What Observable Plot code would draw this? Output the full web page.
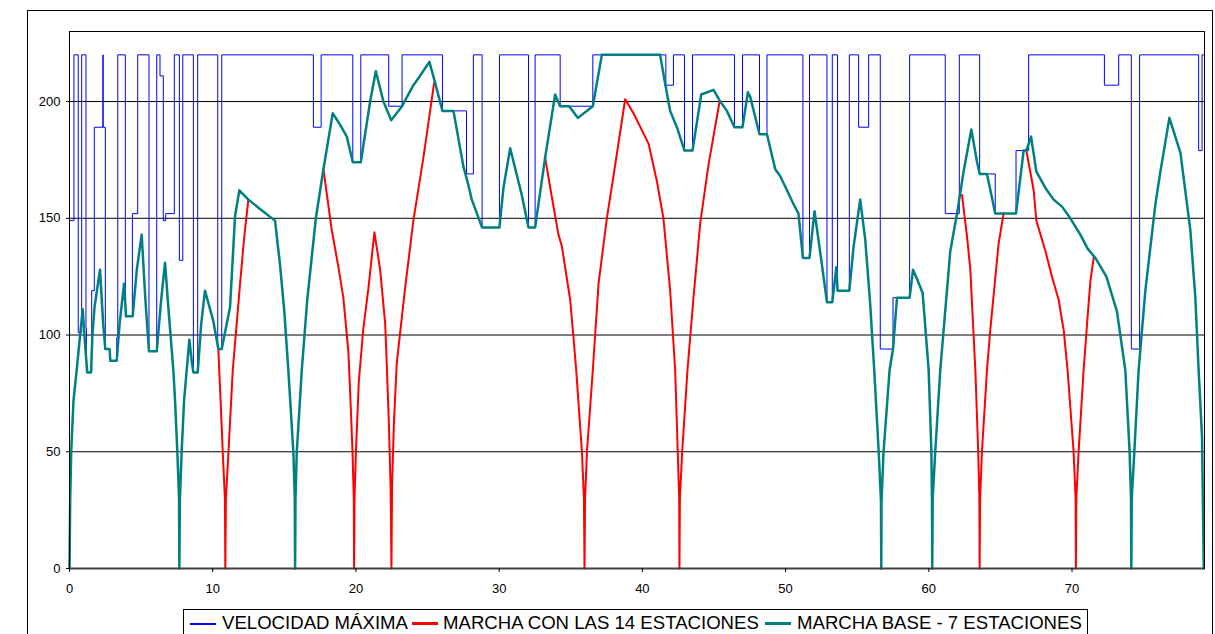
<!DOCTYPE html>
<html><head><meta charset="utf-8">
<script src="https://cdn.jsdelivr.net/npm/d3@7"></script>
<script src="https://cdn.jsdelivr.net/npm/@observablehq/plot@0.6"></script>
<style>
html,body{margin:0;padding:0;background:#fff;overflow:hidden;width:1215px;height:634px;}
body{position:relative;font-family:"Liberation Sans",Arial,sans-serif;}
#outer{position:absolute;left:27px;top:10px;width:1186px;height:700px;border:1px solid #000;box-sizing:border-box;pointer-events:none;}
#chart{position:absolute;left:0;top:0;}
#legend{position:absolute;left:183px;top:609px;width:905px;height:30px;border:1px solid #000;box-sizing:border-box;font-size:18.6px;color:#000;white-space:nowrap;background:#fff;}
#legend .sw{position:absolute;top:13px;width:26px;height:2px;}
#legend .tx{position:absolute;top:3px;line-height:20px;}
</style></head>
<body>
<div id="chart"></div>
<div id="legend"></div>
<div id="outer"></div>
<script>
// ---- data ----
const xTicks = [0, 10, 20, 30, 40, 50, 60, 70];
const yTicks = [0, 50, 100, 150, 200];
const seriesNames = ["VELOCIDAD MÁXIMA", "MARCHA CON LAS 14 ESTACIONES", "MARCHA BASE - 7 ESTACIONES"];
const seriesColors = ["#0000ff", "#ff0000", "#008080"];

// speed limit: step starts (km) and values (km/h)
const limitX = [0,0.31,0.61,0.85,1.15,1.18,1.55,1.73,2.33,2.35,2.5,2.8,3.3,3.37,3.9,4.39,4.76,5.55,6.09,6.32,6.55,6.72,7.32,7.67,7.91,8.65,8.95,10.35,10.63,17.03,17.57,19.78,20.34,22.29,23.22,26.04,27.72,28.2,28.81,30.02,32.05,32.51,34.26,36.54,41.64,42.17,42.94,43.5,46.43,46.99,48.18,48.7,51.21,51.67,52.89,53.26,53.63,54.45,55.1,55.8,56.61,57.5,58.66,61.15,62.13,63.55,64.64,66.09,66.97,72.26,73.26,74.14,74.72,78.84,79.08,79.25];
const limitY = [149,220,101,220,103,84,119,189,220,189,94,89,99,220,108,152,220,93,220,211,149,152,220,132,220,84,220,94,220,189,220,174,220,198,220,196,169,220,146,220,146,220,198,220,207,220,179,220,189,220,186,220,133,220,114,220,119,220,189,220,94,116,220,152,220,169,152,179,220,207,220,94,220,179,220,220];

// base run (7 stations): [km, km/h]
const baseRun = [[0,0],[0.05,30],[0.12,50],[0.28,72],[0.5,85],[0.92,111],[1.1,95],[1.24,84],[1.5,84],[1.6,100],[1.75,112],[2.13,128],[2.35,105],[2.5,94],[2.8,94],[2.85,89],[3.3,89],[3.5,105],[3.81,122],[3.95,108],[4.41,108],[4.7,128],[5.04,143],[5.3,115],[5.55,93],[6.09,93],[6.4,115],[6.67,131],[6.95,108],[7.25,85],[7.37,72],[7.53,50],[7.65,30],[7.67,0],[7.71,30],[7.83,50],[8.0,72],[8.37,98],[8.55,88],[8.65,84],[8.95,84],[9.2,105],[9.46,119],[10.04,106],[10.39,94],[10.63,94],[11.21,112],[11.56,151],[11.86,162],[12.49,158],[13.3,154],[14.35,149],[14.7,130],[15.0,110],[15.28,85],[15.63,50],[15.73,30],[15.75,0],[15.78,30],[15.87,50],[16.22,85],[16.6,115],[17.2,150],[17.73,171],[18.38,195],[18.9,190],[19.36,185],[19.78,174],[20.34,174],[20.99,200],[21.39,213],[21.92,200],[22.46,192],[23.22,198],[24.01,207],[24.36,210],[25.13,217],[25.53,208],[26.04,196],[26.81,196],[27.51,172],[27.86,164],[28.09,158],[28.81,146],[30.02,146],[30.3,163],[30.77,180],[31.58,160],[32.05,146],[32.51,146],[33.21,176],[33.91,203],[34.26,198],[34.89,198],[35.5,193],[36.54,198],[37.17,220],[41.24,220],[41.55,209],[41.94,196],[42.41,189],[42.94,179],[43.5,179],[44.11,203],[44.97,205],[45.44,200],[45.9,196],[46.43,189],[46.99,189],[47.37,204],[47.53,202],[48.18,186],[48.7,186],[49.28,171],[49.63,168],[50.56,156],[50.9,152],[51.21,133],[51.67,133],[52.02,153],[52.54,130],[52.89,114],[53.26,114],[53.54,129],[53.63,119],[54.45,119],[54.75,138],[55.21,158],[55.56,141],[55.91,113],[56.19,85],[56.5,50],[56.66,29],[56.68,0],[56.7,29],[56.84,50],[57.26,85],[57.5,94],[57.78,116],[58.66,116],[58.9,128],[59.18,124],[59.57,118],[59.99,85],[60.18,50],[60.22,30],[60.24,0],[60.27,30],[60.45,50],[60.8,85],[61.5,136],[61.97,152],[62.43,170],[62.97,188],[63.37,174],[63.55,169],[64.06,169],[64.64,152],[66.09,152],[66.62,179],[66.81,179],[67.14,185],[67.51,170],[68.14,163],[68.72,158],[69.3,155],[69.88,150],[70.58,143],[71.09,137],[71.63,133],[72.4,125],[73.14,110],[73.72,85],[74.02,50],[74.12,30],[74.14,0],[74.17,30],[74.35,50],[74.65,85],[75.12,119],[75.82,156],[76.17,170],[76.8,193],[77.57,178],[78.26,145],[78.61,116],[78.84,85],[79.08,56],[79.2,0]];

// run with 14 stations: only the stretches where it departs from the base run
const stationsRun = [
  [[10.39,94],[10.55,72],[10.7,50],[10.85,30],[10.88,0],[10.92,30],[11.1,50],[11.4,85],[11.91,122],[12.2,142],[12.49,158]],
  [[17.73,171],[18.31,145],[18.78,129],[19.12,116],[19.47,93],[19.62,72],[19.76,50],[19.85,30],[19.87,0],[19.9,30],[20.0,50],[20.2,80],[20.52,103],[20.87,120],[21.29,144],[21.69,128],[22.04,105],[22.15,88],[22.3,62],[22.42,35],[22.48,0],[22.52,35],[22.65,62],[22.85,88],[23.43,120],[24.01,149],[24.71,176],[25.46,208]],
  [[33.21,176],[33.68,159],[34.14,143],[34.38,138],[34.96,115],[35.19,99],[35.38,85],[35.78,50],[35.92,30],[35.96,0],[36.0,30],[36.13,50],[36.54,85],[36.94,122],[37.52,150],[37.98,168],[38.8,201],[39.38,195],[40.43,182],[41.01,166],[41.47,150],[41.94,119],[42.29,85],[42.47,50],[42.57,30],[42.59,0],[42.62,30],[42.78,50],[43.15,85],[43.57,116],[44.04,148],[44.62,173],[45.39,200]],
  [[62.32,160],[62.67,142],[62.9,128],[63.02,113],[63.25,85],[63.45,50],[63.53,30],[63.55,0],[63.58,30],[63.71,50],[64.06,85],[64.29,102],[64.87,139],[65.22,152]],
  [[66.81,179],[67.32,162],[67.51,149],[68.14,136],[68.6,125],[69.07,115],[69.42,102],[69.69,85],[70.11,50],[70.25,30],[70.27,0],[70.3,30],[70.46,50],[70.81,85],[71.09,108],[71.28,123],[71.51,133]]
];

// ---- build tables ----
const limitRows = limitX.map((x, i) => ({x, y: limitY[i]}));
const baseRows = baseRun.map(([x, y]) => ({x, y}));
const stationRows = stationsRun.flatMap((seg, s) => seg.map(([x, y]) => ({x, y, seg: s})));

const chart = Plot.plot({
  width: 1215, height: 600,
  marginLeft: 69, marginRight: 11, marginTop: 31, marginBottom: 32,
  x: {domain: [0, 79.25]},
  y: {domain: [0, 230]},
  style: {fontFamily: "'Liberation Sans', Arial, sans-serif", fontSize: "13px", color: "#000", background: "transparent"},
  marks: [
    Plot.ruleY(yTicks.filter(d => d > 0), {stroke: "#000", strokeWidth: 1}),
    Plot.line(limitRows, {x: "x", y: "y", curve: "step-after", stroke: seriesColors[0], strokeWidth: 1}),
    Plot.line(stationRows, {x: "x", y: "y", z: "seg", stroke: seriesColors[1], strokeWidth: 2}),
    Plot.line(baseRows, {x: "x", y: "y", stroke: seriesColors[2], strokeWidth: 2.5}),
    Plot.frame({stroke: "#000"}),
    Plot.ruleY([0], {stroke: "#404040", strokeWidth: 2}),
    Plot.axisY({ticks: yTicks, tickSize: 3, tickPadding: 6, label: null, fontSize: 13}),
    Plot.axisX({ticks: xTicks, tickSize: 4, tickPadding: 11, label: null, fontSize: 13})
  ]
});
document.getElementById("chart").appendChild(chart);

// legend: swatch and text offsets inside the box
const legend = document.getElementById("legend");
const swatchLeft = [6, 228, 581];
const textLeft = [38, 259, 613];
seriesNames.forEach((name, i) => {
  const sw = document.createElement("span");
  sw.className = "sw";
  sw.style.left = swatchLeft[i] + "px";
  sw.style.background = seriesColors[i];
  if (i > 0) { sw.style.height = "3px"; sw.style.top = "12px"; }
  legend.appendChild(sw);
  const tx = document.createElement("span");
  tx.className = "tx";
  tx.style.left = textLeft[i] + "px";
  tx.textContent = name;
  legend.appendChild(tx);
});
</script>
</body></html>
